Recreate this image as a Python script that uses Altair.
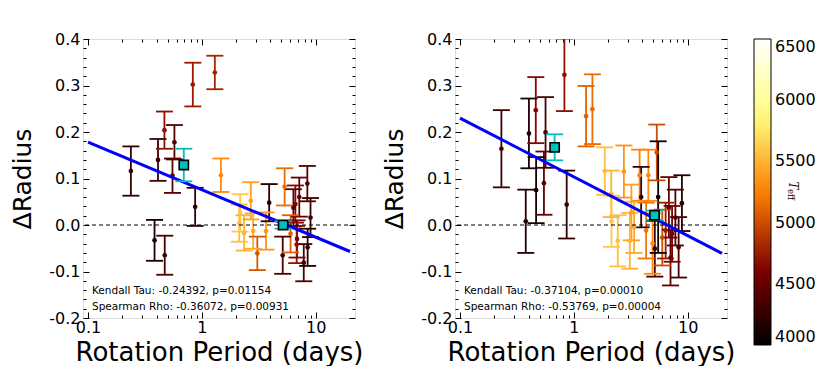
import altair as alt
import pandas as pd

FONT = "DejaVu Sans"

# ---------------- data ----------------
# left panel
period_1 = [0.238, 0.412, 0.469, 0.574, 0.552, 0.833, 1.30, 0.873, 0.384, 0.472, 1.47,
            2.69, 2.13, 2.82, 3.07, 3.90, 5.33, 5.13, 6.63, 7.17, 8.44, 9.0, 7.85, 8.49,
            6.01, 6.85, 2.17, 2.35, 3.66, 6.37, 6.8]
dr_1 = [0.116, 0.140, 0.204, 0.178, 0.106, 0.302, 0.328, 0.039, -0.033, -0.065, 0.107,
        0.052, 0.004, -0.013, -0.061, 0.048, 0.082, -0.065, 0.045, 0.060, 0.089, 0.016, -0.081, -0.048,
        -0.019, -0.030, 0.026, -0.017, -0.013, 0.037, -0.042]
err_1 = [0.053, 0.045, 0.040, 0.037, 0.037, 0.047, 0.036, 0.041, 0.044, 0.042, 0.036,
         0.040, 0.040, 0.038, 0.036, 0.040, 0.040, 0.040, 0.040, 0.042, 0.038, 0.042, 0.040, 0.040,
         0.040, 0.040, 0.040, 0.038, 0.040, 0.040, 0.040]
teff_1 = [4250, 4300, 4700, 4400, 4450, 4750, 4800, 4250, 4100, 4350, 5300,
          5400, 5550, 5450, 5050, 4200, 5150, 4350, 4650, 4500, 4400, 4300, 4350, 4200,
          5100, 4600, 5600, 5500, 5350, 4400, 4700]
cyan_period_1 = [0.694, 5.17]
cyan_dr_1 = [0.129, 0.000]
cyan_err_1 = [0.035, 0.008]
fit_1 = [0.178, -0.057]
stats_1 = ["Kendall Tau: -0.24392, p=0.01154", "Spearman Rho: -0.36072, p=0.00931"]

# right panel
period_2 = [0.231, 0.403, 0.463, 0.564, 0.546, 0.466, 0.378, 0.826, 0.865, 1.455, 1.28,
            1.87, 2.75, 2.13, 3.78, 4.51, 5.35, 5.5, 3.9, 2.14, 2.43, 3.2, 3.38, 3.1,
            5.14, 6.83, 7.79, 8.89, 8.32, 6.4, 5.98, 7.29, 4.31, 7.06, 4.91]
dr_2 = [0.164, 0.197, 0.247, 0.199, 0.090, 0.075, 0.008, 0.323, 0.044, 0.249, 0.234,
        0.116, 0.115, 0.067, 0.107, 0.107, 0.156, 0.060, 0.060, 0.008, -0.034, 0.027, -0.005, -0.034,
        -0.051, 0.038, 0.016, 0.047, -0.048, -0.012, -0.027, -0.019, -0.012, -0.070, -0.040]
err_2 = [0.083, 0.075, 0.071, 0.076, 0.068, 0.071, 0.068, 0.078, 0.073, 0.075, 0.065,
         0.051, 0.056, 0.050, 0.055, 0.055, 0.060, 0.120, 0.065, 0.055, 0.055, 0.060, 0.055, 0.060,
         0.060, 0.065, 0.060, 0.060, 0.065, 0.060, 0.060, 0.060, 0.060, 0.060, 0.065]
teff_2 = [4300, 4150, 4650, 4350, 4500, 4100, 4200, 4700, 4250, 5150, 5100,
          5550, 5350, 5500, 5250, 5300, 5000, 4050, 4300, 5600, 5550, 5400, 5450, 5500,
          4300, 4500, 4400, 4200, 4350, 4750, 5000, 4600, 5200, 4500, 5300]
cyan_period_2 = [0.678, 5.11]
cyan_dr_2 = [0.167, 0.021]
cyan_err_2 = [0.028, 0.010]
fit_2 = [0.230, -0.061]
stats_2 = ["Kendall Tau: -0.37104, p=0.00010", "Spearman Rho: -0.53769, p=0.00004"]

fit_period = [0.1, 20.0]

# ticks / labels
x_ticks = [0.1, 1, 10]
x_minor = [0.2, 0.3, 0.4, 0.5, 0.6, 0.7, 0.8, 0.9, 2, 3, 4, 5, 6, 7, 8, 9]
y_ticks = [-0.2, -0.1, 0.0, 0.1, 0.2, 0.3, 0.4]
y_minor = [round(-0.2 + 0.02 * i, 2) for i in range(31) if i % 5 != 0]
teff_ticks = [4000, 4500, 5000, 5500, 6000, 6500]
teff_stops = [4000, 4625, 5250, 5875, 6500]
afmhot = ["#000000", "#800000", "#ff8000", "#ffff80", "#ffffff"]

# ---------------- layout constants ----------------
W, H = 272, 279
MAJ, MIN = 6, 3
CYAN = "#00bfbf"

xs = alt.Scale(type="log", domain=[0.1, 20], nice=False)
ys = alt.Scale(domain=[-0.2, 0.4], nice=False, zero=False)


def tick_axis(orient, values, size, **kw):
    base = dict(orient=orient, values=values, tickSize=size, offset=-size, domain=False,
                grid=False, tickColor="black", tickWidth=1, labels=False, title=None)
    base.update(kw)
    return alt.Axis(**base)


AX_B_MAJ = tick_axis("bottom", x_ticks, MAJ, labels=True, format="~g", labelFont=FONT,
                     labelFontSize=16, labelColor="black", labelPadding=1, labelFlush=False,
                     labelOverlap=False, title="Rotation Period (days)", titleFont=FONT,
                     titleFontSize=26, titleFontWeight="normal", titleColor="black", titlePadding=4)
AX_B_MIN = tick_axis("bottom", x_minor, MIN)
AX_T_MAJ = tick_axis("top", x_ticks, MAJ)
AX_T_MIN = tick_axis("top", x_minor, MIN)

AY_L_MAJ = tick_axis("left", y_ticks, MAJ, labels=True,
                     labelExpr="datum.value < 0 ? '-' + format(-datum.value, '.1f') : format(datum.value, '.1f')",
                     labelFont=FONT, labelFontSize=16, labelColor="black", labelPadding=3,
                     labelOverlap=False, title="ΔRadius", titleFont=FONT, titleFontSize=25,
                     titleFontWeight="normal", titleColor="black", titlePadding=13)
AY_L_MIN = tick_axis("left", y_minor, MIN)
AY_R_MAJ = tick_axis("right", y_ticks, MAJ)
AY_R_MIN = tick_axis("right", y_minor, MIN)

teff_scale = alt.Scale(domain=teff_stops, range=afmhot, interpolate="rgb", clamp=True)
color = alt.Color(
    "teff:Q", scale=teff_scale,
    legend=alt.Legend(type="gradient", orient="none", legendX=671, legendY=0, direction="vertical",
                      gradientLength=306, gradientThickness=17, title=None, values=teff_ticks,
                      format="d", labelFont=FONT, labelFontSize=16, labelColor="black",
                      labelBaseline="middle", labelOffset=4, labelOverlap=False,
                      gradientStrokeColor="black", gradientStrokeWidth=1, padding=0),
)


def panel(period, dr, err, teff, cp, cd, ce, fit_y, stats, extra=()):
    df = pd.DataFrame(dict(period=period, dr=dr, teff=teff,
                           lo=[d - e for d, e in zip(dr, err)],
                           hi=[d + e for d, e in zip(dr, err)]))
    cdf = pd.DataFrame(dict(period=cp, dr=cd,
                            lo=[d - e for d, e in zip(cd, ce)],
                            hi=[d + e for d, e in zip(cd, ce)]))
    fdf = pd.DataFrame(dict(period=fit_period, dr=fit_y))
    zdf = pd.DataFrame(dict(dr=[0.0]))
    tdf = pd.DataFrame(dict(text=["\n".join(stats)]))

    base = alt.Chart(df)
    # vertical error bars drawn as thin filled bars so every coloured layer uses "fill"
    bars = base.mark_bar(size=1.8, orient="vertical", opacity=1, clip=True).encode(
        x=alt.X("period:Q", scale=xs, axis=AX_B_MAJ),
        y=alt.Y("lo:Q", scale=ys, axis=AY_L_MAJ), y2="hi:Q", color=color)
    caps_lo = base.mark_tick(orient="horizontal", size=17, thickness=1.8, opacity=1, clip=True).encode(
        x=alt.X("period:Q", scale=xs, axis=AX_B_MIN),
        y=alt.Y("lo:Q", scale=ys, axis=AY_L_MIN), color=color)
    caps_hi = base.mark_tick(orient="horizontal", size=17, thickness=1.8, opacity=1, clip=True).encode(
        x=alt.X("period:Q", scale=xs, axis=AX_T_MAJ),
        y=alt.Y("hi:Q", scale=ys, axis=AY_R_MAJ), color=color)
    pts = base.mark_circle(size=22, opacity=1, clip=True).encode(
        x=alt.X("period:Q", scale=xs, axis=AX_T_MIN),
        y=alt.Y("dr:Q", scale=ys, axis=AY_R_MIN), color=color)
    zero = alt.Chart(zdf).mark_rule(color="black", strokeWidth=1, strokeDash=[4, 3]).encode(
        y=alt.Y("dr:Q", scale=ys, axis=None))
    fit = alt.Chart(fdf).mark_line(color="#0000ff", strokeWidth=3, clip=True).encode(
        x=alt.X("period:Q", scale=xs, axis=None), y=alt.Y("dr:Q", scale=ys, axis=None))
    cb = alt.Chart(cdf)
    cbars = cb.mark_rule(color=CYAN, strokeWidth=1.8).encode(
        x=alt.X("period:Q", scale=xs, axis=None), y=alt.Y("lo:Q", scale=ys, axis=None), y2="hi:Q")
    ccl = cb.mark_tick(orient="horizontal", size=17, thickness=1.8, color=CYAN, opacity=1).encode(
        x=alt.X("period:Q", scale=xs, axis=None), y=alt.Y("lo:Q", scale=ys, axis=None))
    cch = cb.mark_tick(orient="horizontal", size=17, thickness=1.8, color=CYAN, opacity=1).encode(
        x=alt.X("period:Q", scale=xs, axis=None), y=alt.Y("hi:Q", scale=ys, axis=None))
    csq = cb.mark_square(size=85, fill=CYAN, stroke="black", strokeWidth=1.6, opacity=1, filled=True).encode(
        x=alt.X("period:Q", scale=xs, axis=None), y=alt.Y("dr:Q", scale=ys, axis=None))
    txt = alt.Chart(tdf).mark_text(align="left", baseline="alphabetic", font=FONT, fontSize=10.5,
                                   lineBreak="\n", lineHeight=16, color="black").encode(
        x=alt.value(9), y=alt.value(255), text="text:N")
    layers = [bars, caps_lo, caps_hi, pts, zero, fit, cbars, ccl, cch, csq, txt] + list(extra)
    return alt.layer(*layers).resolve_axis(x="independent", y="independent").properties(width=W, height=H)


# colour-bar label (T_eff), rotated like the original
lab_T = alt.Chart(pd.DataFrame(dict(t=["T"]))).mark_text(
    font="DejaVu Serif", fontStyle="italic", fontSize=12, angle=90, align="center",
    baseline="middle", color="black").encode(x=alt.value(338), y=alt.value(146.5), text="t:N")
lab_eff = alt.Chart(pd.DataFrame(dict(t=["eff"]))).mark_text(
    font="DejaVu Serif", fontSize=8.5, angle=90, align="center",
    baseline="middle", color="black").encode(x=alt.value(336), y=alt.value(155.5), text="t:N")

left = panel(period_1, dr_1, err_1, teff_1, cyan_period_1, cyan_dr_1, cyan_err_1, fit_1, stats_1)
right = panel(period_2, dr_2, err_2, teff_2, cyan_period_2, cyan_dr_2, cyan_err_2, fit_2, stats_2,
              extra=[lab_T, lab_eff])

chart = alt.hconcat(left, right, spacing=18).properties(
    padding={"left": 2, "top": 22, "right": 0, "bottom": 0}
).configure_view(stroke="black", strokeWidth=1).configure(background="white")

chart.save("out.html", embed_options={"renderer": "svg", "actions": False})
